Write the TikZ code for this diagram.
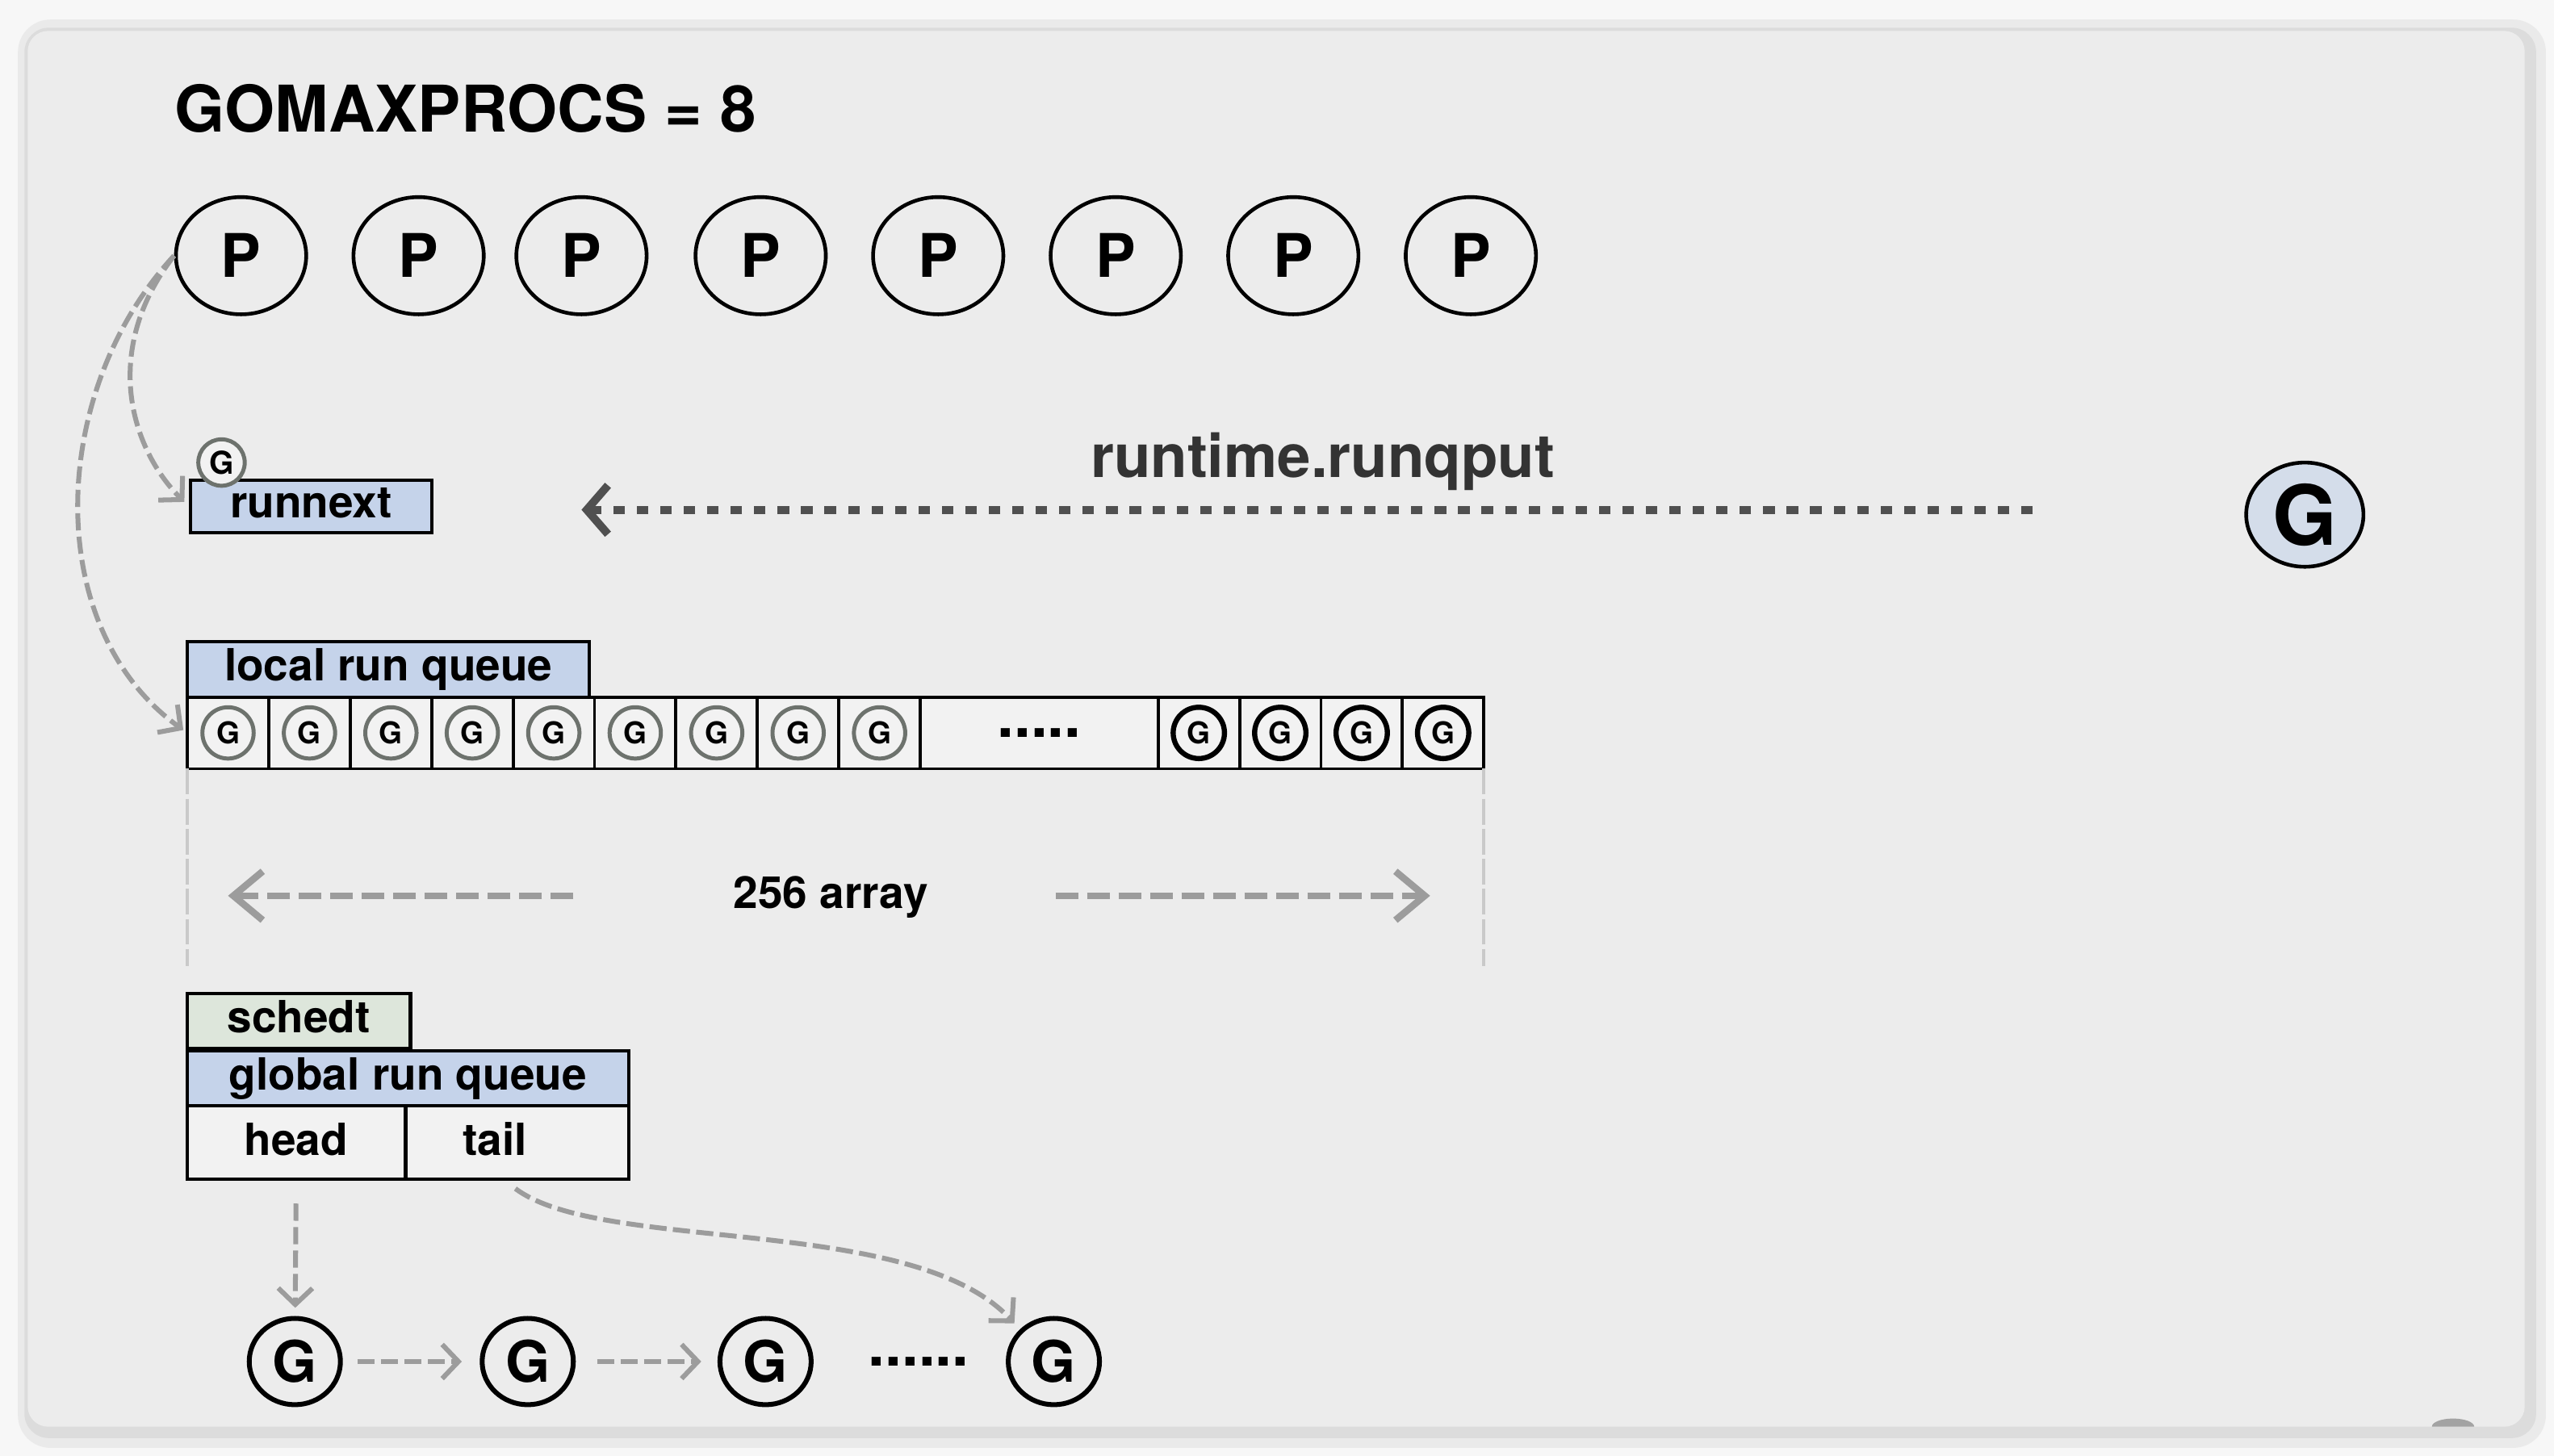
\documentclass[tikz,border=0pt]{standalone}
\usepackage{fontspec}
\setmainfont{TeX Gyre Heros}
\usetikzlibrary{shapes.geometric,arrows.meta,positioning}

\definecolor{outerbg}{HTML}{F7F7F7}
\definecolor{shadowa}{HTML}{EAEAEA}
\definecolor{shadowb}{HTML}{DCDCDC}
\definecolor{panelbg}{HTML}{ECECEC}
\definecolor{qblue}{HTML}{C5D3EA}
\definecolor{schedgreen}{HTML}{DDE6DB}
\definecolor{cellbg}{HTML}{F2F2F2}
\definecolor{gbigfill}{HTML}{D4DDEA}
\definecolor{ringgray}{HTML}{6D726D}
\definecolor{arrowgray}{HTML}{9C9C9C}
\definecolor{putgray}{HTML}{505050}
\definecolor{puttext}{HTML}{333333}
\definecolor{fadegray}{HTML}{C9C9C9}
\definecolor{markgray}{HTML}{A3A3A3}

\tikzset{
  titletext/.style={inner sep=0pt, font=\fontsize{22.5}{26}\selectfont\bfseries},
  putlabel/.style={inner sep=0pt, text=puttext, font=\fontsize{21}{24}\selectfont\bfseries},
  plainlabel/.style={inner sep=0pt, font=\fontsize{15.5}{18}\selectfont\bfseries},
  proc/.style={ellipse, draw, line width=1.3pt, minimum width=1.6cm, minimum height=1.44cm,
    inner sep=0pt, font=\fontsize{21}{24}\selectfont\bfseries},
  qbox/.style={rectangle, draw, line width=1.15pt, fill=qblue, inner sep=0pt,
    text height=11pt, text depth=3pt, font=\fontsize{15.5}{18}\selectfont\bfseries},
  sbox/.style={qbox, fill=schedgreen},
  hcell/.style={rectangle, draw, line width=1.15pt, fill=cellbg, minimum height=0.9cm,
    inner xsep=0.7cm, inner ysep=0pt, align=left, text height=11pt, text depth=2pt,
    font=\fontsize{15.5}{18}\selectfont\bfseries},
  cell/.style={rectangle, draw, line width=1.1pt, fill=cellbg, minimum width=1cm,
    minimum height=0.88cm, inner sep=0pt, outer sep=0pt},
  gsmall/.style={circle, draw=#1, line width=1.4pt, fill=cellbg, minimum size=0.63cm,
    inner sep=0pt, font=\fontsize{10.5}{12}\selectfont\bfseries},
  gbig/.style={ellipse, draw, line width=1.3pt, fill=gbigfill, minimum width=1.44cm,
    minimum height=1.28cm, inner sep=0pt, font=\fontsize{29}{32}\selectfont\bfseries},
  gnode/.style={ellipse, draw, line width=1.7pt, minimum width=1.12cm, minimum height=1.06cm,
    inner sep=0pt, font=\fontsize{20}{23}\selectfont\bfseries},
  dotrow/.style={inner sep=0pt, font=\fontsize{21}{24}\selectfont\bfseries},
  garrow/.style={draw=arrowgray, line width=1.7pt, dash pattern=on 6pt off 2.2pt,
    -{Straight Barb[length=0.2cm,width=0.42cm]}},
  spanarrow/.style={draw=arrowgray, line width=2.4pt, dash pattern=on 8pt off 3pt,
    -{Straight Barb[length=0.36cm,width=0.6cm]}},
  putarrow/.style={draw=putgray, line width=2.8pt, dash pattern=on 4pt off 4.2pt,
    -{Straight Barb[length=0.26cm,width=0.6cm]}},
  spanline/.style={draw=fadegray, line width=1.2pt, dash pattern=on 9pt off 1.5pt}
}

\begin{document}
\begin{tikzpicture}[x=0.02cm, y=-0.02cm]
  \useasboundingbox (0,0) rectangle (1568,894);
  \fill[outerbg] (0,0) rectangle (1568,894);
  \fill[shadowa, rounded corners=0.4cm] (11,12) rectangle (1563,889);
  \fill[shadowb, rounded corners=0.3cm] (15,17) rectangle (1557,883);
  \fill[panelbg, rounded corners=0.25cm] (17,19) rectangle (1550,876);
  \fill[markgray] (1493,876) arc[start angle=180, end angle=0, x radius=0.26cm, y radius=0.1cm] -- cycle;

  \node[titletext, anchor=base west] (title) at (107,81) {GOMAXPROCS = 8};
  \foreach \x [count=\i] in {148,257,357,467,576,685,794,903}
    \node[proc] (p\i) at (\x,157) {P};

  \node[qbox, minimum width=2.96cm, minimum height=0.64cm] (runnext) at (191,311) {runnext};
  \node[gsmall=ringgray, minimum size=0.57cm, font=\fontsize{11}{12}\selectfont\bfseries] (gnext) at (136,284) {G};

  \node[putlabel, anchor=base] (runqput) at (812,293) {runtime.runqput};
  \node[gbig] (gnew) at (1415,316) {G};
  \coordinate (putfrom) at (1248,313);
  \coordinate (putto) at (357,313);
  \draw[putarrow] (putfrom) -- (putto);

  \node[qbox, minimum width=4.94cm, minimum height=0.68cm] (lrq) at (238.5,411) {local run queue};
  \foreach \i in {1,...,9} {
    \node[cell] (c\i) at ({90+50*\i},450) {};
    \node[gsmall=ringgray] (g\i) at (c\i) {G};
  }
  \node[cell, minimum width=2.92cm, right=0pt of c9, font=\fontsize{21}{24}\selectfont\bfseries] (cdots) {.....};
  \foreach \i in {10,...,13} {
    \node[cell] (c\i) at ({236+50*\i},450) {};
    \node[gsmall=black, line width=1.8pt] (g\i) at (c\i) {G};
  }

  \draw[garrow, shorten >=0.08cm] (p1.west) .. controls (62,215) and (80,275) .. (runnext.west);
  \draw[garrow, shorten >=0.06cm] (p1.west) .. controls (30,240) and (25,385) .. (c1.west);

  \draw[spanline] (c1.south west) -- +(0,121);
  \draw[spanline] (c13.south east) -- +(0,121);
  \node[plainlabel, anchor=base] (span) at (510,558) {256 array};
  \coordinate (spanlfrom) at (352,550);
  \coordinate (spanlto) at (140,550);
  \coordinate (spanrfrom) at (648,550);
  \coordinate (spanrto) at (878,550);
  \draw[spanarrow] (spanlfrom) -- (spanlto);
  \draw[spanarrow] (spanrfrom) -- (spanrto);

  \node[sbox, minimum width=2.74cm, minimum height=0.68cm] (schedt) at (183.5,627) {schedt};
  \node[qbox, minimum width=5.42cm, minimum height=0.68cm] (grq) at (250.5,662) {global run queue};
  \node[hcell, text width=1.28cm] (head) at (182,701.5) {head};
  \node[hcell, text width=1.34cm] (tail) at (317.5,701.5) {tail};

  \foreach \x [count=\i] in {181,324,470,647}
    \node[gnode] (q\i) at (\x,836) {G};
  \node[dotrow] (qdots) at (564,836) {......};

  \draw[garrow, shorten <=0.28cm, shorten >=0.1cm] (head) -- (q1);
  \draw[garrow, shorten <=0.16cm, shorten >=0.1cm] ([xshift=-0.15cm]tail.south) .. controls (370,770) and (560,745) .. (q4.north west);
  \draw[garrow, shorten <=0.18cm, shorten >=0.22cm] (q1) -- (q2);
  \draw[garrow, shorten <=0.26cm, shorten >=0.2cm] (q2) -- (q3);
\end{tikzpicture}
\end{document}
